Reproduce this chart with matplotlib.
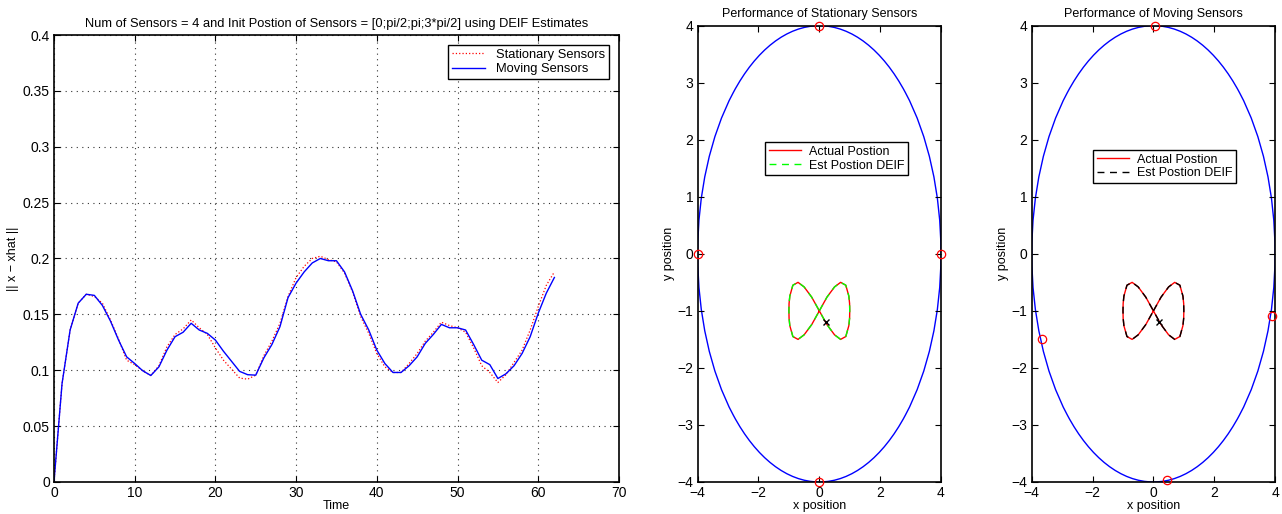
import matplotlib
matplotlib.use("Agg")
import matplotlib.pyplot as plt
from matplotlib.patches import Circle

plt.rcParams['font.family'] = ['Liberation Sans', 'DejaVu Sans']
plt.rcParams['axes.unicode_minus'] = True

# ---- error vs time (left panel)
time = list(range(0, 63))
moving = [0.0, 0.088, 0.136, 0.160, 0.168, 0.167, 0.158, 0.144, 0.127, 0.112,
          0.106, 0.0995, 0.0953, 0.103, 0.118, 0.130, 0.134, 0.142, 0.136, 0.133,
          0.127, 0.117, 0.108, 0.099, 0.096, 0.0956, 0.111, 0.123, 0.139, 0.165,
          0.178, 0.188, 0.196, 0.200, 0.198, 0.198, 0.188, 0.171, 0.150, 0.136,
          0.118, 0.106, 0.098, 0.098, 0.104, 0.112, 0.124, 0.132, 0.141, 0.138,
          0.138, 0.136, 0.123, 0.109, 0.105, 0.0926, 0.0968, 0.104, 0.115, 0.130,
          0.151, 0.169, 0.183]
stationary = [0.0, 0.088, 0.136, 0.160, 0.168, 0.166, 0.160, 0.145, 0.128, 0.109,
              0.105, 0.0995, 0.0953, 0.104, 0.121, 0.132, 0.137, 0.145, 0.138, 0.132,
              0.120, 0.109, 0.101, 0.093, 0.092, 0.0956, 0.113, 0.126, 0.142, 0.166,
              0.183, 0.193, 0.200, 0.202, 0.199, 0.197, 0.187, 0.170, 0.148, 0.133,
              0.115, 0.103, 0.098, 0.098, 0.106, 0.115, 0.126, 0.134, 0.143, 0.140,
              0.138, 0.134, 0.120, 0.104, 0.098, 0.089, 0.096, 0.107, 0.118, 0.136,
              0.157, 0.176, 0.188]

xticks_left = [0, 10, 20, 30, 40, 50, 60, 70]
yticks_left = [0, 0.05, 0.1, 0.15, 0.2, 0.25, 0.3, 0.35, 0.4]
ytick_labels_left = ['0', '0.05', '0.1', '0.15', '0.2', '0.25', '0.3', '0.35', '0.4']

# ---- target path (figure eight)
path_x = [0.0, 0.25, 0.5, 0.7, 0.87, 0.97, 0.995, 1.0, 0.995, 0.97, 0.87, 0.7,
          0.5, 0.25, 0.0, -0.25, -0.5, -0.7, -0.87, -0.97, -0.995, -1.0, -0.995,
          -0.97, -0.87, -0.7, -0.5, -0.25, 0.0]
path_y = [-1.0, -0.76, -0.58, -0.5, -0.55, -0.74, -0.87, -1.0, -1.13, -1.26,
          -1.45, -1.5, -1.42, -1.24, -1.0, -0.76, -0.58, -0.5, -0.55, -0.74,
          -0.87, -1.0, -1.13, -1.26, -1.45, -1.5, -1.42, -1.24, -1.0]

orbit_radius = 4
stat_sensor_x = [0, -4, 0, 4]
stat_sensor_y = [4, 0, -4, 0]
mov_sensor_x = [0.05, -3.67, 0.45, 3.89]
mov_sensor_y = [4.0, -1.49, -3.97, -1.09]
est_stat = (0.22, -1.19)
est_mov = (0.2, -1.2)

fig = plt.figure(figsize=(12.82, 5.14), dpi=100)


def matlab_axes(ax):
    ax.tick_params(direction='in', top=True, right=True, labelsize=10,
                   length=4, width=0.8, pad=3)
    for s in ax.spines.values():
        s.set_linewidth(1.2)


# left panel
ax1 = fig.add_axes([0.0421, 0.0623, 0.4407, 0.8696])
ax1.plot(time, stationary, color='red', linestyle=':', linewidth=0.9,
         label='Stationary Sensors')
ax1.plot(time, moving, color='blue', linewidth=1.0, label='Moving Sensors')
ax1.set_xlim(0, 70)
ax1.set_ylim(0, 0.4)
ax1.set_xticks(xticks_left)
ax1.set_yticks(yticks_left)
ax1.set_yticklabels(ytick_labels_left)
ax1.grid(True, color='#333333', linestyle=(0, (1, 4)), linewidth=0.8)
matlab_axes(ax1)
ax1.set_title('Num of Sensors = 4 and Init Postion of Sensors = [0;pi/2;pi;3*pi/2] using DEIF Estimates',
              fontsize=9.3, pad=6)
ax1.set_xlabel('Time', fontsize=9, labelpad=0)
ax1.set_ylabel('|| x \u2212 xhat ||', fontsize=9, labelpad=3)
ax1.legend(loc='upper right', bbox_to_anchor=(0.982, 0.978), fontsize=9.3,
           fancybox=False, edgecolor='black', framealpha=1, borderpad=0.3,
           labelspacing=0.2, handlelength=2.6, handletextpad=0.8,
           borderaxespad=0)


def orbit_panel(rect, title, sx, sy, est, est_color, leg_anchor):
    ax = fig.add_axes(rect)
    ax.add_patch(Circle((0, 0), orbit_radius, fill=False, edgecolor='blue',
                        linewidth=1.0))
    ax.plot(sx, sy, 'o', mfc='none', mec='red', ms=6, mew=0.9, clip_on=False,
            zorder=5)
    ax.plot(path_x, path_y, color='red', linewidth=1.0, label='Actual Postion')
    ax.plot(path_x, path_y, color=est_color, linewidth=1.0,
            linestyle=(0, (5, 4)), label='Est Postion DEIF')
    ax.plot([est[0]], [est[1]], 'x', color='black', ms=5, mew=1.0)
    ax.set_xlim(-4, 4)
    ax.set_ylim(-4, 4)
    ax.set_xticks([-4, -2, 0, 2, 4])
    ax.set_yticks([-4, -3, -2, -1, 0, 1, 2, 3, 4])
    matlab_axes(ax)
    ax.set_title(title, fontsize=9, pad=6)
    ax.set_xlabel('x position', fontsize=9, labelpad=0)
    ax.set_ylabel('y position', fontsize=9, labelpad=2)
    ax.legend(loc='upper left', bbox_to_anchor=leg_anchor, fontsize=9,
              fancybox=False, edgecolor='black', framealpha=1, borderpad=0.3,
              labelspacing=0.15, handlelength=2.6, handletextpad=0.6,
              borderaxespad=0)
    return ax


orbit_panel([0.5442, 0.0623, 0.1898, 0.8877], 'Performance of Stationary Sensors',
            stat_sensor_x, stat_sensor_y, est_stat, '#00ff00', (0.277, 0.745))
orbit_panel([0.8048, 0.0623, 0.1898, 0.8877], 'Performance of Moving Sensors',
            mov_sensor_x, mov_sensor_y, est_mov, 'black', (0.252, 0.728))

fig.savefig('out.png', dpi=100)
